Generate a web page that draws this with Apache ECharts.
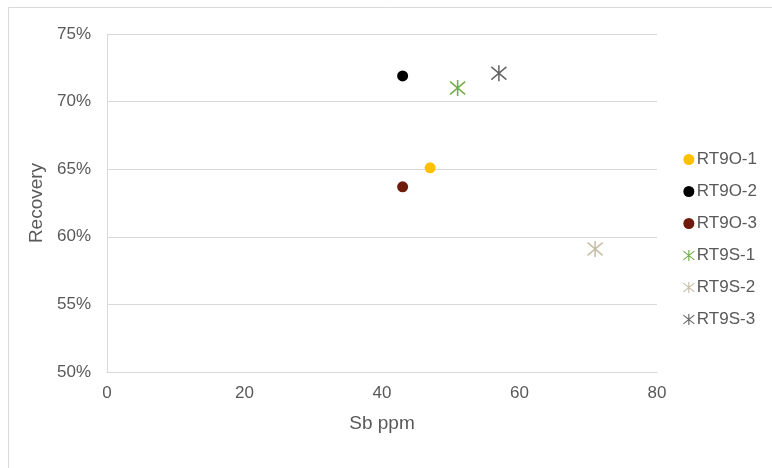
<!DOCTYPE html>
<html>
<head>
<meta charset="utf-8">
<script src="https://cdn.jsdelivr.net/npm/echarts@6/dist/echarts.min.js"></script>
<style>
    html, body {
        margin: 0;
        padding: 0;
        background: #fff;
    }

    #chart {
        width: 772px;
        height: 468px;
    }
</style>
</head>
<body>
<div id="chart"></div>
<script>
// series names and their points [Sb ppm, recovery %]
const seriesNames = ['RT9O-1', 'RT9O-2', 'RT9O-3', 'RT9S-1', 'RT9S-2', 'RT9S-3']
const sbPpm = [47, 43, 43, 51, 71, 57]
const recovery = [65.1, 71.9, 63.7, 71.0, 59.1, 72.1]
const colors = ['#ffc000', '#000000', '#701a0c', '#70ad47', '#c4bca4', '#636363']
const markers = ['circle', 'circle', 'circle', 'star', 'star', 'star']

// x axis ticks 0..80 step 20, y axis ticks 50%..75% step 5
const xTicks = [0, 20, 40, 60, 80]
const yTicks = [50, 55, 60, 65, 70, 75]

// asterisk marker: vertical bar + two diagonals
const asterisk = 'path://M9 0L11 0L11 20L9 20Z' +
    'M0.62 1.22L20.62 17.22L19.38 18.78L-0.62 2.78Z' +
    'M-0.62 17.22L19.38 1.22L20.62 2.78L0.62 18.78Z'

const labelColor = '#595959'
const lineColor = '#d9d9d9'
const font = 'Liberation Sans, Arial, sans-serif'

let chart = echarts.init(document.getElementById('chart'))

let series = seriesNames.map(function (name, i) {
    let isStar = markers[i] === 'star'
    return {
        name: name,
        type: 'scatter',
        symbol: isStar ? asterisk : 'circle',
        symbolSize: isStar ? 16 : 11,
        itemStyle: {color: colors[i], opacity: 1},
        data: [[sbPpm[i], recovery[i]]]
    }
})

chart.setOption({
    animation: false,
    backgroundColor: '#fff',
    graphic: [{
        type: 'rect',
        left: 6,
        top: 5,
        shape: {width: 800, height: 500},
        style: {fill: 'none', stroke: lineColor, lineWidth: 1}
    }],
    grid: {
        left: 107,
        right: 115,
        top: 34,
        bottom: 96
    },
    legend: {
        orient: 'vertical',
        left: 678,
        top: 146,
        itemWidth: 12,
        itemHeight: 11,
        itemGap: 15,
        textStyle: {color: labelColor, fontSize: 17, fontFamily: font, padding: [0, 0, 0, -3]},
        data: seriesNames.map(function (n, i) {
            return {name: n, icon: markers[i] === 'star' ? asterisk : 'circle'}
        })
    },
    xAxis: {
        type: 'value',
        min: xTicks[0],
        max: xTicks[xTicks.length - 1],
        interval: xTicks[1] - xTicks[0],
        name: 'Sb ppm',
        nameLocation: 'middle',
        nameGap: 42,
        nameTextStyle: {color: labelColor, fontSize: 19, fontFamily: font},
        axisLine: {lineStyle: {color: lineColor}},
        axisTick: {show: false},
        splitLine: {show: false},
        axisLabel: {color: labelColor, fontSize: 17, fontFamily: font, margin: 13}
    },
    yAxis: {
        type: 'value',
        min: yTicks[0],
        max: yTicks[yTicks.length - 1],
        interval: yTicks[1] - yTicks[0],
        name: 'Recovery',
        nameLocation: 'middle',
        nameGap: 58,
        nameTextStyle: {color: labelColor, fontSize: 19, fontFamily: font},
        axisLine: {show: true, lineStyle: {color: lineColor}},
        axisTick: {show: false},
        splitLine: {lineStyle: {color: lineColor}},
        axisLabel: {
            color: labelColor, fontSize: 17, fontFamily: font, margin: 16,
            formatter: '{value}%'
        }
    },
    series: series
})
</script>
</body>
</html>
